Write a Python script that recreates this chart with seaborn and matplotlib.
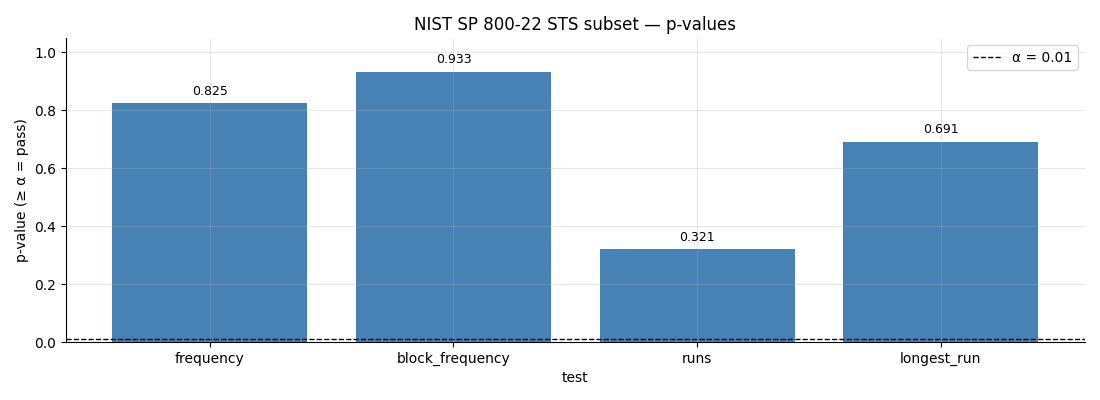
import matplotlib
matplotlib.use("Agg")
import matplotlib.pyplot as plt
import seaborn as sns
import pandas as pd

tests = ["frequency", "block_frequency", "runs", "longest_run"]
p_values = [0.825, 0.933, 0.321, 0.691]
alpha = 0.01

sns.set_style("ticks")
plt.rcParams['font.family'] = ['DejaVu Sans']
for k in ["text.color", "axes.labelcolor", "xtick.color", "ytick.color", "axes.edgecolor"]:
    plt.rcParams[k] = "black"

df = pd.DataFrame({"test": tests, "p": p_values})
fig, ax = plt.subplots(figsize=(11, 4), dpi=100)
sns.barplot(data=df, x="test", y="p", color="#4682B4", saturation=1, width=0.8,
            linewidth=0, edgecolor="none", ax=ax)
for i, v in enumerate(p_values):
    ax.annotate(f"{v:.3f}", (i, v), xytext=(0, 4), textcoords="offset points",
                ha="center", va="bottom", fontsize=9)
ax.axhline(alpha, color="black", linestyle="--", linewidth=1, label=f"α = {alpha}")
ax.set_xlim(-0.59, 3.59)
ax.set_ylim(0, 1.05)
ax.set_xlabel("test")
ax.set_ylabel("p-value (≥ α = pass)")
ax.set_title("NIST SP 800-22 STS subset — p-values")
ax.grid(True, color="#b0b0b0", alpha=0.3, linewidth=0.8)
ax.set_axisbelow(False)
ax.legend(loc="upper right")
sns.despine(ax=ax)
fig.subplots_adjust(left=0.06, right=0.986, top=0.905, bottom=0.145)
fig.savefig("out.png")
